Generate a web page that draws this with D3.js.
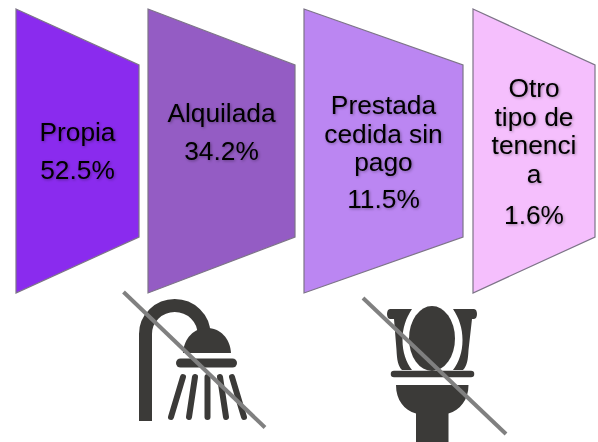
<!DOCTYPE html>
<html>
<head>
<meta charset="utf-8">
<script src="https://cdnjs.cloudflare.com/ajax/libs/d3/7.8.5/d3.min.js"></script>
<style>
html, body { margin: 0; padding: 0; background: #fff; }
svg { display: block; }
text { font-family: "Liberation Sans", Arial, sans-serif; fill: #000; }
</style>
</head>
<body>
<div id="chart"></div>
<script>
// tenure data
var categories = ["Propia", "Alquilada", "Prestada cedida sin pago", "Otro tipo de tenencia"];
var tenureValues = [52.5, 34.2, 11.5, 1.6];
var labelLines = [
    ["Propia"],
    ["Alquilada"],
    ["Prestada", "cedida sin", "pago"],
    ["Otro", "tipo de", "tenenci", "a"]
];

// layout only
var panelLeft = [16, 148, 304, 473];
var panelRight = [139, 295, 463, 595];
var panelColors = ["#8a2bee", "#945cc4", "#bb86f2", "#f5bffd"];
var firstBaseline = [141, 122, 114, 97];
var valueBaseline = [179, 160, 208, 224];
var panelTop = [9, 65];
var panelBottom = [293, 237];
var lineHeight = 28.5;
var labelSize = 26.3;
var width = 598, height = 442;

var leftScale = d3.scaleOrdinal(categories, panelLeft);
var rightScale = d3.scaleOrdinal(categories, panelRight);
var colorScale = d3.scaleOrdinal(categories, panelColors);
var formatValue = function (v) { return d3.format(".1f")(v) + "%"; };

var svg = d3.select("#chart").append("svg")
    .attr("width", width)
    .attr("height", height);

var defs = svg.append("defs");

//soft dark glow behind the labels
var glow = defs.append("filter")
    .attr("id", "glow")
    .attr("x", "-20%").attr("y", "-40%")
    .attr("width", "140%").attr("height", "180%");
glow.append("feDropShadow")
    .attr("dx", 1).attr("dy", 1)
    .attr("stdDeviation", 1.5)
    .attr("flood-color", "#000")
    .attr("flood-opacity", 0.35);

var panels = svg.selectAll("g.panel")
    .data(categories)
    .enter()
    .append("g")
    .attr("class", "panel");

panels.append("path")
    .attr("d", function (d) {
        var p = d3.path();
        p.moveTo(leftScale(d), panelTop[0]);
        p.lineTo(rightScale(d), panelTop[1]);
        p.lineTo(rightScale(d), panelBottom[1]);
        p.lineTo(leftScale(d), panelBottom[0]);
        p.closePath();
        return p.toString();
    })
    .attr("fill", function (d) { return colorScale(d); })
    .attr("stroke", "#7d7488")
    .attr("stroke-width", 1.2);

panels.each(function (d, i) {
    var cx = (leftScale(d) + rightScale(d)) / 2;
    var g = d3.select(this).append("g").attr("filter", "url(#glow)");
    g.selectAll("text.name")
        .data(labelLines[i])
        .enter()
        .append("text")
        .attr("class", "name")
        .attr("x", cx)
        .attr("y", function (line, k) { return firstBaseline[i] + k * lineHeight; })
        .attr("text-anchor", "middle")
        .attr("font-size", labelSize)
        .text(function (line) { return line; });
    g.append("text")
        .attr("x", cx)
        .attr("y", valueBaseline[i])
        .attr("text-anchor", "middle")
        .attr("font-size", labelSize)
        .text(formatValue(tenureValues[i]));
});

var iconColor = "#3b3a38";
var slashColor = "#808080";

// shower icon
var shower = svg.append("g");
shower.append("path")
    .attr("d", "M145.5 421V334A29.25 28.5 0 0 1 204 334")
    .attr("fill", "none")
    .attr("stroke", iconColor)
    .attr("stroke-width", 13);
shower.append("path")
    .attr("d", "M183 353C184 338 194 328 207 328C220 328 230 338 231 353Z")
    .attr("fill", iconColor);
shower.append("line")
    .attr("x1", 180.5).attr("y1", 363).attr("x2", 232.5).attr("y2", 363)
    .attr("stroke", iconColor).attr("stroke-width", 9).attr("stroke-linecap", "round");
var sprayTop = [183, 195, 207.5, 220, 232];
var sprayBottom = [171, 189, 207.5, 226, 244];
shower.selectAll("line.spray")
    .data(sprayTop)
    .enter()
    .append("line")
    .attr("class", "spray")
    .attr("x1", function (d) { return d; })
    .attr("y1", 377)
    .attr("x2", function (d, i) { return sprayBottom[i]; })
    .attr("y2", 417)
    .attr("stroke", iconColor)
    .attr("stroke-width", 6)
    .attr("stroke-linecap", "round");

// toilet icon
var toilet = svg.append("g");
toilet.append("path")
    .attr("d", "M390 309H412C406 318 402.5 328 402.5 340C402.5 352 406 362 412 370H402C398 366 397 360 396.5 350L394 319H390C386 319 386 309 390 309Z")
    .attr("fill", iconColor);
toilet.append("path")
    .attr("d", "M474 309H453C459 318 462.5 328 462.5 340C462.5 352 459 362 453 370H463C467 366 468 360 468.5 350L472 319H474C478 319 478 309 474 309Z")
    .attr("fill", iconColor);
toilet.append("ellipse")
    .attr("cx", 432).attr("cy", 338.5).attr("rx", 23).attr("ry", 32.5)
    .attr("fill", iconColor);
toilet.append("line")
    .attr("x1", 394).attr("y1", 374).attr("x2", 471).attr("y2", 374)
    .attr("stroke", iconColor).attr("stroke-width", 6.5).attr("stroke-linecap", "round");
toilet.append("path")
    .attr("d", "M396 385H468.500C468.500 400 460 410 448.500 413.500V442H416V413.500C404 410 396 400 396 385Z")
    .attr("fill", iconColor);

// crossing lines
var slashes = [[123.5, 292, 265, 427.5], [363, 298, 506, 434]];
svg.selectAll("line.slash")
    .data(slashes)
    .enter()
    .append("line")
    .attr("class", "slash")
    .attr("x1", function (d) { return d[0]; })
    .attr("y1", function (d) { return d[1]; })
    .attr("x2", function (d) { return d[2]; })
    .attr("y2", function (d) { return d[3]; })
    .attr("stroke", slashColor)
    .attr("stroke-width", 4);
</script>
</body>
</html>
